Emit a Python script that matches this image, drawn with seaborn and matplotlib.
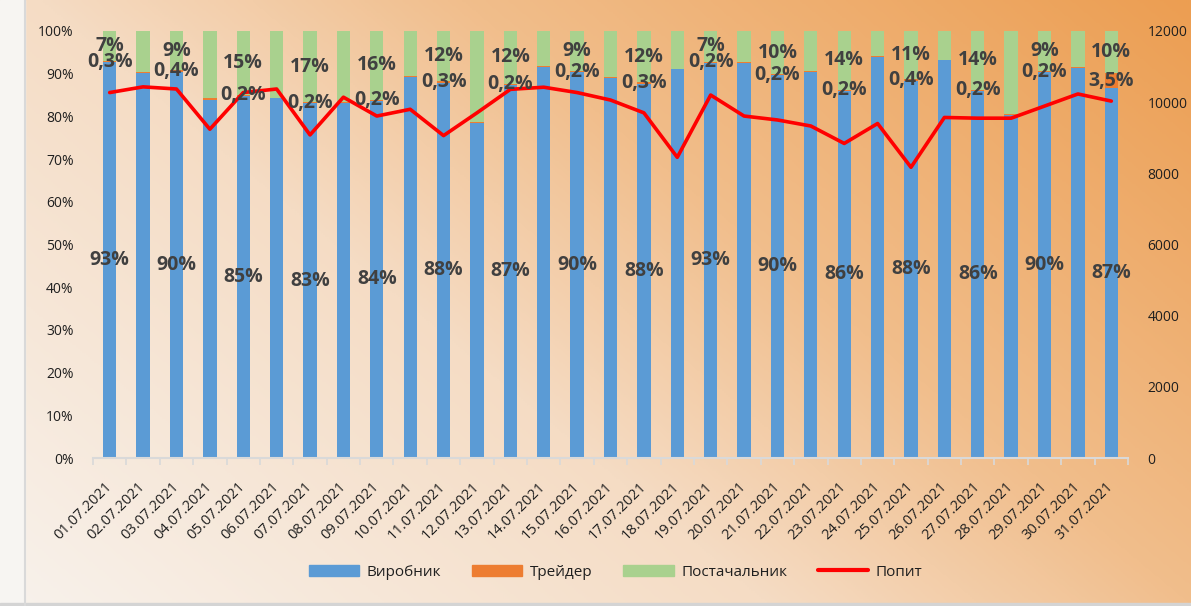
import numpy as np
import pandas as pd
import matplotlib
matplotlib.use("Agg")
import matplotlib.pyplot as plt
import seaborn as sns
from matplotlib.colors import LinearSegmentedColormap
from matplotlib.patches import Patch, Rectangle
from matplotlib.lines import Line2D

# --- data ---
dates = ["01.07.2021", "02.07.2021", "03.07.2021", "04.07.2021", "05.07.2021", "06.07.2021",
         "07.07.2021", "08.07.2021", "09.07.2021", "10.07.2021", "11.07.2021", "12.07.2021",
         "13.07.2021", "14.07.2021", "15.07.2021", "16.07.2021", "17.07.2021", "18.07.2021",
         "19.07.2021", "20.07.2021", "21.07.2021", "22.07.2021", "23.07.2021", "24.07.2021",
         "25.07.2021", "26.07.2021", "27.07.2021", "28.07.2021", "29.07.2021", "30.07.2021",
         "31.07.2021"]
producer = [92.7, 90.1, 90.4, 83.8, 84.8, 84.2, 83.1, 83.2, 83.7, 89.2, 87.9, 78.5, 87.4, 91.5, 90.4, 89.1,
            87.7, 91.0, 92.6, 92.6, 89.7, 90.5, 86.0, 93.9, 88.4, 93.1, 86.0, 80.4, 90.4, 91.3, 86.6]
trader = [0.3, 0.3, 0.4, 0.4, 0.2, 0.2, 0.2, 0.2, 0.2, 0.3, 0.3, 0.2, 0.2, 0.2, 0.2, 0.2,
          0.3, 0.2, 0.2, 0.2, 0.2, 0.2, 0.2, 0.2, 0.4, 0.2, 0.2, 0.2, 0.2, 0.2, 3.5]
supplier = [7.0, 9.6, 9.2, 15.8, 15.0, 15.6, 16.7, 16.6, 16.1, 10.5, 11.8, 21.3, 12.4, 8.3, 9.4, 10.7,
            12.0, 8.8, 7.2, 7.2, 10.1, 9.3, 13.8, 5.9, 11.2, 6.7, 13.8, 19.4, 9.4, 8.5, 9.9]
demand = [10270, 10430, 10370, 9240, 10270, 10370, 9080, 10140, 9610, 9800, 9060, 9700, 10360, 10420,
          10270, 10060, 9700, 8450, 10200, 9610, 9500, 9330, 8840, 9400, 8170, 9570, 9550, 9550,
          9890, 10230, 10030]

df = pd.DataFrame({"date": dates, "Виробник": producer, "Трейдер": trader,
                   "Постачальник": supplier, "Попит": demand})

C_BLUE, C_ORANGE, C_GREEN, C_RED = "#5B9BD5", "#ED7D31", "#A9D18E", "#FF0000"
LABEL_C = "#404040"

sns.set_theme(style="white")
plt.rcParams['font.family'] = ['Open Sans', 'DejaVu Sans']

fig = plt.figure(figsize=(11.91, 6.06), dpi=100)

# background gradient
bg = fig.add_axes([0, 0, 1, 1], zorder=-10)
bg.axis('off')
yy, xx = np.mgrid[0:1:303j, 0:1:600j]
grad = 0.62 * xx + 0.38 * (1 - yy)
cmap = LinearSegmentedColormap.from_list(
    "bg", [(0, "#F8F2EC"), (0.4, "#F5DCC4"), (0.62, "#F1BE8C"), (1.0, "#EC9E52")])
bg.imshow(grad, cmap=cmap, extent=[0, 1, 0, 1], aspect='auto', origin='upper', vmin=0, vmax=1)
bg.add_patch(Rectangle((0, 0), 25 / 1191, 1, color="#F7F5F2", transform=bg.transAxes))
bg.add_line(Line2D([25 / 1191] * 2, [0, 1], color="#D9D9D9", lw=1.5, transform=bg.transAxes))
bg.add_patch(Rectangle((0, 0), 1, 3 / 606, color="#D4D4D4", transform=bg.transAxes))
bg.set_xlim(0, 1)
bg.set_ylim(0, 1)

# main axes
ax = fig.add_axes([93 / 1191, 148 / 606, 1035 / 1191, 427 / 606])
ax.set_facecolor("none")
x = np.arange(len(df))
blue = df["Виробник"].values
orange = df["Трейдер"].values
green = df["Постачальник"].values
bar_kw = dict(width=0.4, linewidth=0, edgecolor="none")
ax.bar(x, blue, color=C_BLUE, **bar_kw)
ax.bar(x, orange, bottom=blue, color=C_ORANGE, **bar_kw)
ax.bar(x, green, bottom=blue + orange, color=C_GREEN, **bar_kw)
ax.set_xlim(-0.5, len(df) - 0.5)
ax.set_ylim(0, 100)
ax.set_yticks(range(0, 101, 10))
ax.set_yticklabels([f"{v}%" for v in range(0, 101, 10)])
ax.set_xticks(x)
ax.set_xticklabels(df["date"], rotation=45, ha='right', va='center', rotation_mode='anchor')
ax.set_xticks(np.arange(-0.5, len(df)), minor=True)
ax.tick_params(axis='y', length=0, pad=14, labelsize=10, labelcolor="#1f1f1f")
ax.tick_params(axis='x', which='major', length=0, pad=19, labelsize=10.5, labelcolor="#1f1f1f")
ax.tick_params(axis='x', which='minor', length=5, width=1.2, color="#D9D9D9", bottom=True)
for s in ["top", "left", "right"]:
    ax.spines[s].set_visible(False)
ax.spines["bottom"].set_color("#D9D9D9")
ax.spines["bottom"].set_linewidth(1.5)
ax.grid(False)

# demand line
ax2 = ax.twinx()
sns.lineplot(x=x, y=df["Попит"].values, ax=ax2, color=C_RED, lw=2.6)
ax2.set_ylim(0, 12000)
ax2.set_yticks(range(0, 12001, 2000))
ax2.tick_params(axis='y', length=0, pad=14, labelsize=10, labelcolor="#1f1f1f")
for s in ax2.spines.values():
    s.set_visible(False)
ax2.grid(False)
ax2.set_ylabel("")

# data labels on every other bar
lab_kw = dict(ha='center', va='center', fontsize=14, fontweight='bold', color=LABEL_C,
              transform=ax.transData, zorder=5)
for i in range(0, len(df), 2):
    ax2.text(i, blue[i] / 2, f"{blue[i]:.0f}%", **lab_kw)
    ax2.text(i, blue[i] + orange[i] / 2, f"{orange[i]:.1f}%".replace('.', ','), **lab_kw)
    ax2.text(i, blue[i] + orange[i] + green[i] / 2, f"{green[i]:.0f}%", **lab_kw)

handles = [Patch(color=C_BLUE), Patch(color=C_ORANGE), Patch(color=C_GREEN),
           Line2D([], [], color=C_RED, lw=3)]
fig.legend(handles, ["Виробник", "Трейдер", "Постачальник", "Попит"], loc='center',
           bbox_to_anchor=(0.517, 0.056), ncol=4, frameon=False, fontsize=11,
           handlelength=3.3, handleheight=0.7, handletextpad=0.5, columnspacing=2.0,
           labelcolor="#1f1f1f")

fig.savefig("out.png", dpi=100)
